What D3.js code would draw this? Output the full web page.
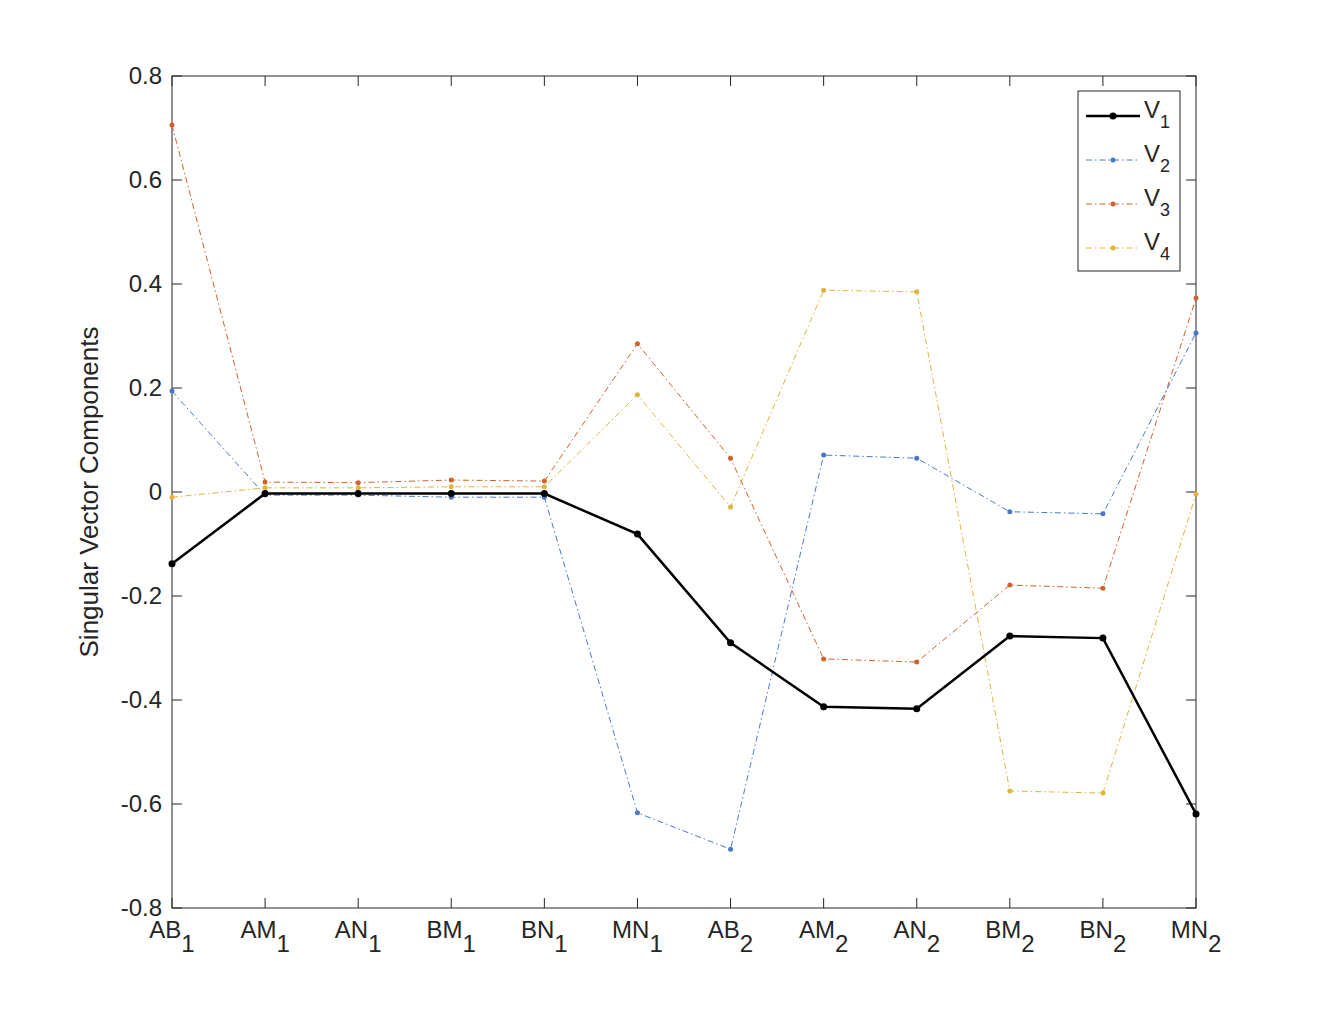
<!DOCTYPE html>
<html><head><meta charset="utf-8">
<script src="https://cdn.jsdelivr.net/npm/d3@7"></script>
<style>body{margin:0;background:#fff}text{font-family:"Liberation Sans",Arial,sans-serif;fill:#262626}</style>
</head><body><svg id="chart" width="1320" height="1020"></svg>
<script>
var cats = ["AB1","AM1","AN1","BM1","BN1","MN1","AB2","AM2","AN2","BM2","BN2","MN2"];
var v1 = [-0.138,-0.003,-0.003,-0.003,-0.003,-0.081,-0.290,-0.413,-0.417,-0.277,-0.281,-0.619];
var v2 = [0.194,-0.006,-0.006,-0.010,-0.010,-0.617,-0.687,0.071,0.065,-0.038,-0.042,0.306];
var v3 = [0.706,0.019,0.018,0.023,0.021,0.285,0.065,-0.321,-0.327,-0.179,-0.185,0.373];
var v4 = [-0.010,0.008,0.008,0.010,0.010,0.187,-0.029,0.388,0.385,-0.575,-0.579,-0.004];
var yTicks = [-0.8,-0.6,-0.4,-0.2,0,0.2,0.4,0.6,0.8];

var series = [
  {name:"1", vals:v1, color:"#000000", width:2.5, dash:null, r:3.5},
  {name:"2", vals:v2, color:"#4a78c8", width:1, dash:"6,3,1.5,3", r:2.5},
  {name:"3", vals:v3, color:"#d0622e", width:1, dash:"6,3,1.5,3", r:2.5},
  {name:"4", vals:v4, color:"#e3b43c", width:1, dash:"6,3,1.5,3", r:2.5}
];

var svg = d3.select("#chart");
var L=172,R=1196,T=76,B=908;
var x = d3.scalePoint().domain(cats).range([L,R]);
var y = d3.scaleLinear().domain([-0.8,0.8]).range([B,T]);

var g = svg.append("g");
g.append("rect").attr("x",L).attr("y",T).attr("width",R-L).attr("height",B-T)
  .attr("fill","none").attr("stroke","#262626").attr("stroke-width",1);
yTicks.forEach(function(t){
  g.append("line").attr("x1",L).attr("x2",L+10).attr("y1",y(t)).attr("y2",y(t)).attr("stroke","#262626");
  g.append("line").attr("x1",R).attr("x2",R-10).attr("y1",y(t)).attr("y2",y(t)).attr("stroke","#262626");
  g.append("text").attr("x",L-10).attr("y",y(t)).attr("dy","0.35em").attr("text-anchor","end")
    .attr("font-size",24).text(t===0?"0":t.toFixed(1));
});
cats.forEach(function(c){
  g.append("line").attr("x1",x(c)).attr("x2",x(c)).attr("y1",B).attr("y2",B-10).attr("stroke","#262626");
  g.append("line").attr("x1",x(c)).attr("x2",x(c)).attr("y1",T).attr("y2",T+10).attr("stroke","#262626");
  var tx = g.append("text").attr("x",x(c)).attr("y",B+30).attr("text-anchor","middle").attr("font-size",24);
  tx.append("tspan").text(c.slice(0,2));
  tx.append("tspan").attr("dy",14).text(c.slice(2));
});
g.append("text").attr("transform","translate(98,"+((T+B)/2)+") rotate(-90)")
  .attr("text-anchor","middle").attr("font-size",26).text("Singular Vector Components");

var line = d3.line().x(function(d,i){return x(cats[i]);}).y(function(d){return y(d);});
series.slice().reverse().forEach(function(s){
  g.append("path").datum(s.vals).attr("d",line).attr("fill","none").attr("stroke",s.color)
    .attr("stroke-width",s.width).attr("stroke-dasharray",s.dash);
  g.selectAll(null).data(s.vals).enter().append("circle")
    .attr("cx",function(d,i){return x(cats[i]);}).attr("cy",function(d){return y(d);})
    .attr("r",s.r).attr("fill",s.color);
});

var lg = svg.append("g");
lg.append("rect").attr("x",1078).attr("y",91).attr("width",102).attr("height",180)
  .attr("fill","#fff").attr("stroke","#262626");
series.forEach(function(s,i){
  var yy = 116 + i*44;
  lg.append("line").attr("x1",1086).attr("x2",1140).attr("y1",yy).attr("y2",yy)
    .attr("stroke",s.color).attr("stroke-width",s.width).attr("stroke-dasharray",s.dash);
  lg.append("circle").attr("cx",1113).attr("cy",yy).attr("r",s.r).attr("fill",s.color);
  var t = lg.append("text").attr("x",1144).attr("y",yy+2).attr("font-size",24);
  t.append("tspan").text("V");
  t.append("tspan").attr("dy",10).attr("font-size",18).text(s.name);
});
</script></body></html>
